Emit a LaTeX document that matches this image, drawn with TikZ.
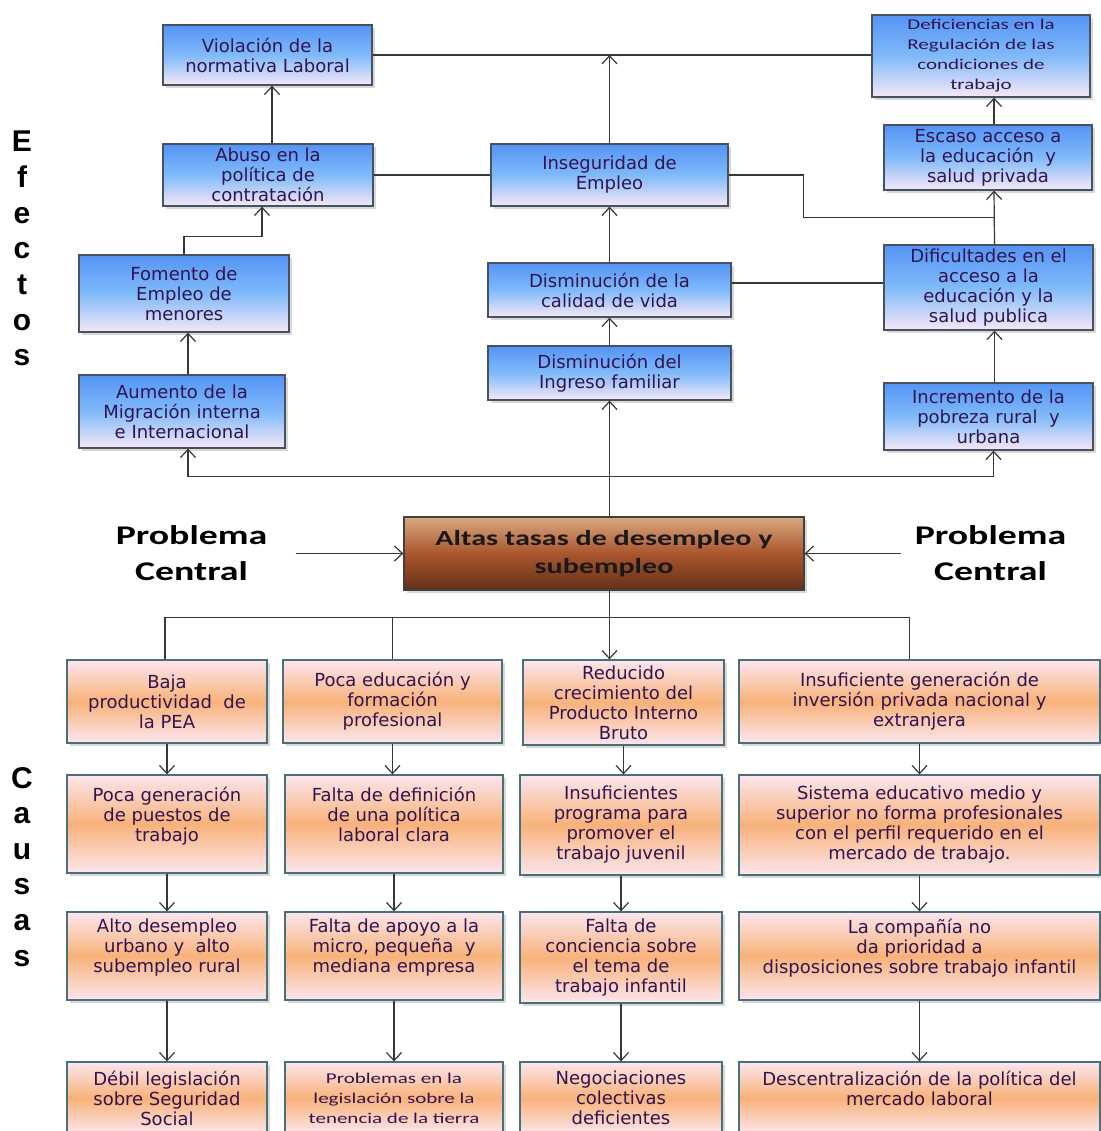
\documentclass[tikz,border=0pt]{standalone}
\usepackage{fontspec}
\setmainfont{DejaVu Sans}
\newfontfamily\ancha[FakeStretch=1.4]{Carlito}
\newfontfamily\gruesa{Liberation Sans}
\usetikzlibrary{arrows.meta,shadows}

\definecolor{texto}{RGB}{50,20,80}
\definecolor{lineagris}{RGB}{55,55,55}
\definecolor{azulsup}{RGB}{85,148,245}
\definecolor{azul}{RGB}{128,186,250}
\definecolor{azulinf}{RGB}{246,232,246}
\definecolor{bordeazul}{RGB}{70,82,95}
\definecolor{narclaro}{RGB}{252,230,238}
\definecolor{naranja}{RGB}{248,178,122}
\definecolor{bordenar}{RGB}{72,112,122}
\definecolor{marronsup}{RGB}{216,168,128}
\definecolor{marron}{RGB}{170,86,45}
\definecolor{marroninf}{RGB}{100,48,22}

\tikzset{
  efecto/.style={draw=bordeazul, line width=1.3pt, top color=azulsup, bottom color=azulinf,
    middle color=azul, text=texto, align=center, inner sep=2pt, font=\fontsize{18}{20}\selectfont,
    drop shadow={opacity=0.3,shadow xshift=3pt,shadow yshift=-3pt}},
  causa/.style={draw=bordenar, line width=1.3pt, top color=narclaro, bottom color=narclaro,
    middle color=naranja, text=texto, align=center, inner sep=2pt, font=\fontsize{18}{20}\selectfont,
    drop shadow={opacity=0.3,shadow xshift=3pt,shadow yshift=-3pt}},
  central/.style={draw=black!75, line width=1.3pt, top color=marronsup, bottom color=marroninf,
    middle color=marron, text=black!90, align=center, font=\ancha\bfseries\fontsize{21.5}{28}\selectfont,
    drop shadow={opacity=0.3,shadow xshift=3pt,shadow yshift=-3pt}},
  titulo/.style={align=center, font=\ancha\bfseries\fontsize{27}{36}\selectfont},
  letra/.style={anchor=base, font=\gruesa\bfseries\fontsize{30}{30}\selectfont},
  conector/.style={line width=1.2pt, draw=lineagris}
}

\begin{document}
\begin{tikzpicture}[x=1pt,y=-1pt,>={Straight Barb[length=8pt,width=15pt]}]
    \useasboundingbox[fill=white] (0,0) rectangle (1100,1131);
    %竖排标题
    \foreach \l [count=\i] in {E,f,e,c,t,o,s}
        \node[letra] (efectos\i) at (22,{152+35.6*(\i-1)}) {\l};
    \foreach \l [count=\i] in {C,a,u,s,a,s}
        \node[letra] (causas\i) at (22,{788+35.6*(\i-1)}) {\l};

    %效果部分
    \node[efecto, minimum width=209pt, minimum height=60pt] (violacion) at (267.5,55) {Violación de la\\normativa Laboral};
    \node[efecto, font=\ancha\fontsize{15}{20}\selectfont, minimum width=218pt, minimum height=82pt] (deficiencias) at (981,56) {Deficiencias en la\\Regulación de las\\condiciones de\\trabajo};
    \node[efecto, minimum width=210pt, minimum height=62pt] (abuso) at (268,175) {Abuso en la\\política de\\contratación};
    \node[efecto, minimum width=237pt, minimum height=62pt] (inseguridad) at (609.5,175) {Inseguridad de\\Empleo};
    \node[efecto, minimum width=208pt, minimum height=65pt] (escaso) at (988,157.5) {Escaso acceso a\\la educación~ y\\salud privada};
    \node[efecto, minimum width=210pt, minimum height=77pt] (fomento) at (184,293.5) {Fomento de\\Empleo de\\menores};
    \node[efecto, minimum width=243pt, minimum height=54pt] (calidad) at (609.5,290) {Disminución de la\\calidad de vida};
    \node[efecto, minimum width=209pt, minimum height=85pt] (dificultades) at (988.5,287.5) {Dificultades en el\\acceso a la\\educación y la\\salud publica};
    \node[efecto, minimum width=243pt, minimum height=54pt] (ingreso) at (609.5,373) {Disminución del\\Ingreso familiar};
    \node[efecto, minimum width=206pt, minimum height=73pt] (aumento) at (182,411.5) {Aumento de la\\Migración interna\\e Internacional};
    \node[efecto, minimum width=209pt, minimum height=67pt] (incremento) at (988.5,416.5) {Incremento de la\\pobreza rural~ y\\urbana};

    \node[central, minimum width=400pt, minimum height=73pt] (problema) at (604,553.5) {Altas tasas de desempleo y\\subempleo};
    \node[titulo] (probizq) at (191.5,553.5) {Problema\\Central};
    \node[titulo] (probder) at (990.5,553.5) {Problema\\Central};

    %原因部分
    \node[causa, minimum width=200pt, minimum height=83pt] (baja) at (167,701.5) {Baja\\productividad~ de\\la PEA};
    \node[causa, minimum width=219pt, minimum height=83pt] (pocaedu) at (392.5,701.5) {Poca educación y\\formación\\profesional};
    \node[causa, minimum width=201pt, minimum height=85pt] (reducido) at (623.5,702.5) {Reducido\\crecimiento del\\Producto Interno\\Bruto};
    \node[causa, minimum width=361pt, minimum height=83pt] (inversion) at (919.5,701.5) {Insuficiente generación de\\inversión privada nacional y\\extranjera};

    \node[causa, minimum width=200pt, minimum height=98pt] (pocagen) at (167,824) {Poca generación\\de puestos de\\trabajo\\ \mbox{}};
    \node[causa, minimum width=218pt, minimum height=98pt] (faltadef) at (394,824) {Falta de definición\\de una política\\laboral clara\\ \mbox{}};
    \node[causa, minimum width=202pt, minimum height=100pt] (programa) at (621,825) {Insuficientes\\programa para\\promover el\\trabajo juvenil};
    \node[causa, minimum width=361pt, minimum height=100pt] (sistema) at (919.5,825) {Sistema educativo medio y\\superior no forma profesionales\\con el perfil requerido en el\\mercado de trabajo.};

    \node[causa, minimum width=200pt, minimum height=88pt] (alto) at (167,956) {Alto desempleo\\urbano y~ alto\\subempleo rural\\ \mbox{}};
    \node[causa, minimum width=218pt, minimum height=88pt] (apoyo) at (394,956) {Falta de apoyo a la\\micro, pequeña~ y\\mediana empresa\\ \mbox{}};
    \node[causa, minimum width=202pt, minimum height=91pt] (conciencia) at (621,957.5) {Falta de\\conciencia sobre\\el tema de\\trabajo infantil};
    \node[causa, minimum width=361pt, minimum height=88pt] (compania) at (919.5,956) {La compañía no\\da prioridad a\\disposiciones sobre trabajo infantil\\ \mbox{}};

    \node[causa, minimum width=200pt, minimum height=72pt] (debil) at (167,1098) {Débil legislación\\sobre Seguridad\\Social};
    \node[causa, font=\ancha\fontsize{15}{20}\selectfont, minimum width=218pt, minimum height=72pt] (tierra) at (394,1098) {Problemas en la\\legislación sobre la\\tenencia de la tierra};
    \node[causa, minimum width=202pt, minimum height=72pt] (negociaciones) at (621,1098) {Negociaciones\\colectivas\\deficientes};
    \node[causa, minimum width=361pt, minimum height=72pt] (descentral) at (919.5,1098) {Descentralización de la política del\\mercado laboral\\ \mbox{}};

    %效果的连线
    \path (ingreso.south) ++(0,76) coordinate (bus);
    \path ([xshift=6pt]dificultades.north) ++(0,-27) coordinate (junta);
    \draw[conector,->] (ingreso|-problema.north) -- (ingreso.south);
    \draw[conector,->] (bus) -| ([xshift=6pt]aumento.south);
    \draw[conector,->] (bus) -| ([xshift=5pt]incremento.south);
    \draw[conector,->] (ingreso.north) -- (calidad.south);
    \draw[conector,->] (calidad.north) -- (inseguridad.south);
    \draw[conector,->] (inseguridad.north) -- (inseguridad.north|-violacion.east);
    \draw[conector] (violacion.east) -- (violacion.east-|deficiencias.west);
    \draw[conector] (abuso.east) -- (inseguridad.west);
    \draw[conector,->] ([xshift=4pt]abuso.north) -- ([xshift=4.5pt]violacion.south);
    \draw[conector,->] (fomento.north) -- ++(0,-18) -| ([xshift=-6pt]abuso.south);
    \draw[conector,->] ([xshift=6pt]aumento.north) -- ([xshift=4pt]fomento.south);
    \draw[conector] ([yshift=7pt]calidad.east) -- ([yshift=4.5pt]dificultades.west);
    \draw[conector] (inseguridad.east) -- ++(75,0) |- (junta);
    \draw[conector,->] ([xshift=6pt]dificultades.north) -- ([xshift=6pt]escaso.south);
    \draw[conector,->] ([xshift=6pt]escaso.north) -- ([xshift=13pt]deficiencias.south);
    \draw[conector,->] ([xshift=6pt]incremento.north) -- ([xshift=6pt]dificultades.south);
    \draw[conector,->] (probizq.east) ++(25,0) -- (problema.west);
    \draw[conector,->] ([xshift=-10pt]probder.west) -- (problema.east);

    %原因的连线
    \path (ingreso|-problema.south) ++(0,27) coordinate (rama);
    \draw[conector,->] (ingreso|-problema.south) -- (ingreso|-reducido.north);
    \draw[conector] ([xshift=-2pt]baja.north) |- (rama) -| ([xshift=-10pt]inversion.north);
    \draw[conector] (pocaedu.north) -- (pocaedu.north|-rama);
    \draw[conector,->] (baja.south) -- (baja.south|-pocagen.north);
    \draw[conector,->] (pocaedu.south) -- (pocaedu.south|-faltadef.north);
    \draw[conector,->] (reducido.south) -- (reducido.south|-programa.north);
    \draw[conector,->] (inversion.south) -- (inversion.south|-sistema.north);
    \draw[conector,->] (pocagen.south) -- (pocagen.south|-alto.north);
    \draw[conector,->] (faltadef.south) -- (faltadef.south|-apoyo.north);
    \draw[conector,->] (programa.south) -- (programa.south|-conciencia.north);
    \draw[conector,->] (sistema.south) -- (sistema.south|-compania.north);
    \draw[conector,->] (alto.south) -- (alto.south|-debil.north);
    \draw[conector,->] (apoyo.south) -- (apoyo.south|-tierra.north);
    \draw[conector,->] (conciencia.south) -- (conciencia.south|-negociaciones.north);
    \draw[conector,->] (compania.south) -- (compania.south|-descentral.north);
\end{tikzpicture}
\end{document}
